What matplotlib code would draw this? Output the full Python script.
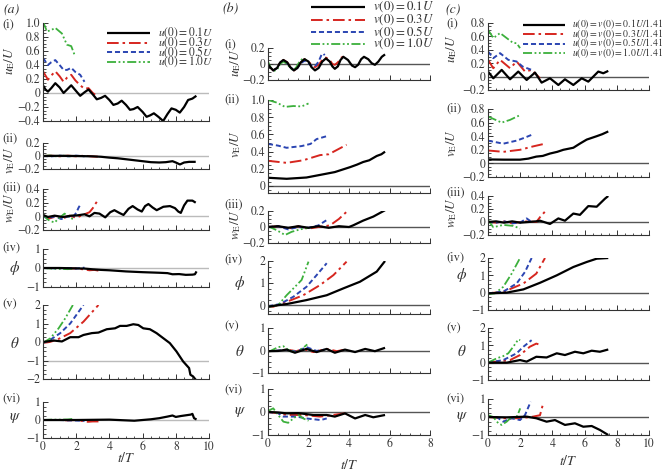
import matplotlib
matplotlib.use('Agg')
import matplotlib.pyplot as plt
from matplotlib.ticker import MultipleLocator, FuncFormatter
from matplotlib.lines import Line2D

plt.rcParams['font.family'] = 'STIXGeneral'
plt.rcParams['mathtext.fontset'] = 'stix'

# ---- data: each panel holds [black, red, blue, green] series as (t/T, value) pairs ----
a_labels = [r'$u(0)=0.1U$', r'$u(0)=0.3U$', r'$u(0)=0.5U$', r'$u(0)=1.0U$']
b_labels = [r'$v(0)=0.1U$', r'$v(0)=0.3U$', r'$v(0)=0.5U$', r'$v(0)=1.0U$']
c_labels = [r'$u(0)=v(0)=0.1U/1.41$', r'$u(0)=v(0)=0.3U/1.41$',
            r'$u(0)=v(0)=0.5U/1.41$', r'$u(0)=v(0)=1.0U/1.41$']

a_ue = [
    [(0, 0.11), (0.15, 0.05), (0.3, 0.02), (0.5, 0.07), (0.74, 0.14), (1.0, 0.08), (1.24, 0.0), (1.45, 0.05),
     (1.7, 0.11), (1.95, 0.04), (2.24, -0.04), (2.5, 0.01), (2.74, 0.05), (3.0, -0.02), (3.24, -0.09),
     (3.5, -0.07), (3.74, -0.04), (4.0, -0.1), (4.24, -0.17), (4.5, -0.15), (4.74, -0.11), (5.0, -0.17),
     (5.24, -0.24), (5.45, -0.23), (5.7, -0.2), (6.0, -0.27), (6.24, -0.34), (6.45, -0.32), (6.68, -0.29),
     (6.95, -0.34), (7.24, -0.40), (7.5, -0.3), (7.74, -0.22), (8.0, -0.24), (8.24, -0.28), (8.5, -0.2),
     (8.74, -0.1), (9.0, -0.08), (9.24, -0.04)],
    [(0, 0.31), (0.3, 0.19), (0.5, 0.25), (0.74, 0.31), (1.0, 0.24), (1.24, 0.16), (1.45, 0.22), (1.7, 0.26),
     (1.95, 0.18), (2.24, 0.11), (2.5, 0.06), (2.74, 0.07), (3.0, 0.0), (3.24, -0.04)],
    [(0, 0.5), (0.3, 0.4), (0.5, 0.44), (0.74, 0.47), (1.0, 0.4), (1.24, 0.33), (1.45, 0.33), (1.7, 0.36),
     (1.95, 0.3), (2.24, 0.26), (2.5, 0.16)],
    [(0, 1.02), (0.24, 0.88), (0.5, 0.9), (0.74, 0.93), (1.14, 0.85), (1.44, 0.69), (1.7, 0.67), (1.94, 0.52)],
]
a_ve = [
    [(0, 0), (1, 0.003), (2, 0), (3, -0.005), (3.5, -0.012), (4, -0.025), (4.5, -0.035), (5, -0.05),
     (5.5, -0.065), (6, -0.08), (6.5, -0.095), (7, -0.1), (7.4, -0.095), (7.8, -0.08), (8.0, -0.1),
     (8.25, -0.13), (8.5, -0.1), (8.8, -0.09), (9.2, -0.09)],
    [(0, 0), (0.5, 0.005), (1, -0.005), (1.5, 0.005), (2, -0.005), (2.5, 0.005), (3, -0.008), (3.3, -0.01)],
    [(0, 0), (0.5, -0.005), (1, 0.005), (1.5, -0.005), (2, 0.005), (2.5, -0.005)],
    [(0, 0), (0.4, 0.008), (0.8, -0.005), (1.2, 0.006), (1.6, -0.005), (1.9, 0.005)],
]
a_we = [
    [(0, 0.02), (0.3, -0.01), (0.7, 0.01), (1.2, -0.01), (1.7, 0.01), (2.1, 0.015), (2.5, 0.03), (2.8, 0.0),
     (3.1, 0.05), (3.4, 0.04), (3.75, -0.015), (4.05, 0.06), (4.3, 0.09), (4.6, 0.05), (4.85, 0.02),
     (5.15, 0.11), (5.4, 0.15), (5.7, 0.1), (5.95, 0.07), (6.15, 0.15), (6.35, 0.18), (6.6, 0.13),
     (6.85, 0.09), (7.25, 0.14), (7.65, 0.15), (7.95, 0.12), (8.15, 0.07), (8.3, 0.05), (8.5, 0.16),
     (8.7, 0.23), (9.0, 0.23), (9.2, 0.2)],
    [(0, 0), (0.4, -0.03), (0.8, 0.0), (1.2, -0.03), (1.6, 0.01), (2.0, -0.02), (2.4, 0.02), (2.6, 0.04),
     (2.8, 0.06), (3.0, 0.12), (3.15, 0.18), (3.35, 0.25)],
    [(0, 0), (0.3, -0.03), (0.7, 0.0), (1.1, -0.04), (1.5, 0.0), (1.8, -0.01), (2.0, 0.05), (2.15, 0.13), (2.3, 0.19)],
    [(0, 0.03), (0.25, -0.04), (0.45, -0.07), (0.7, -0.09), (0.95, -0.03), (1.3, 0.04), (1.5, 0.0), (1.8, -0.04)],
]
a_phi = [
    [(0, 0), (1, 0), (2, -0.02), (2.5, -0.03), (3, -0.07), (3.5, -0.1), (4, -0.12), (5, -0.18), (6, -0.22),
     (7, -0.25), (7.5, -0.27), (7.8, -0.33), (8.2, -0.32), (8.6, -0.36), (9.0, -0.35), (9.15, -0.33), (9.25, -0.18)],
    [(0, 0), (1, 0.0), (1.5, -0.03), (2, -0.02), (2.5, -0.08), (2.8, -0.12), (3.1, -0.1), (3.35, -0.14)],
    [(0, 0), (0.8, -0.02), (1.5, 0.0), (2, -0.03), (2.5, 0.02)],
    [(0, 0), (0.5, -0.03), (1.0, -0.05), (1.5, -0.06), (1.9, -0.02)],
]
a_theta = [
    [(0, 0), (0.64, 0.08), (1.14, 0.03), (1.64, 0.26), (2.14, 0.26), (2.44, 0.38), (2.94, 0.48), (3.34, 0.51),
     (3.84, 0.69), (4.34, 0.74), (4.64, 0.87), (5.04, 0.87), (5.44, 0.96), (5.74, 0.92), (6.04, 0.74),
     (6.44, 0.69), (6.84, 0.48), (7.24, 0.21), (7.64, -0.06), (8.04, -0.51), (8.44, -1.05), (8.8, -1.41),
     (8.88, -1.77), (9.04, -1.86), (9.2, -2.04)],
    [(0, -0.05), (0.4, 0.0), (0.84, 0.12), (1.64, 0.48), (2.44, 1.1), (3.34, 2.0)],
    [(0, -0.05), (0.44, 0.12), (1.04, 0.48), (1.64, 1.0), (2.44, 2.0)],
    [(0, -0.05), (0.44, 0.2), (0.94, 0.74), (1.34, 1.28), (1.8, 2.0)],
]
a_psi = [
    [(0, 0), (2, 0), (4, 0.02), (5, -0.02), (5.5, -0.04), (6, 0), (6.5, 0.04), (7, 0.1), (7.5, 0.19),
     (7.8, 0.25), (8.0, 0.17), (8.3, 0.22), (8.6, 0.26), (8.9, 0.3), (9.0, 0.34), (9.1, 0.1), (9.25, 0.03)],
    [(0, 0), (1, 0), (1.5, -0.02), (2, 0), (2.4, -0.06), (2.7, -0.1), (3.0, -0.08), (3.4, -0.08)],
    [(0, 0), (1, 0), (1.5, -0.02), (2, -0.03), (2.5, -0.05)],
    [(0, 0), (0.5, 0.02), (1, 0.02), (1.5, 0.03), (1.9, 0.07)],
]

b_ue = [
    [(0, 0.0), (0.1, -0.04), (0.26, -0.08), (0.45, -0.05), (0.6, 0.02), (0.76, 0.05), (0.95, 0.02),
     (1.1, -0.04), (1.28, -0.08), (1.45, -0.05), (1.62, 0.02), (1.8, 0.06), (2.0, 0.03), (2.15, -0.04),
     (2.32, -0.08), (2.5, -0.05), (2.68, 0.03), (2.86, 0.07), (3.05, 0.03), (3.18, -0.03), (3.3, -0.06),
     (3.45, -0.03), (3.58, 0.05), (3.72, 0.09), (3.95, 0.05), (4.15, -0.02), (4.3, -0.04), (4.45, -0.01),
     (4.6, 0.06), (4.74, 0.09), (4.95, 0.06), (5.12, 0.01), (5.28, -0.01), (5.45, 0.03), (5.62, 0.09), (5.78, 0.12)],
    [(0, 0.0), (0.1, -0.04), (0.26, -0.08), (0.45, -0.05), (0.6, 0.02), (0.76, 0.05), (0.95, 0.02),
     (1.1, -0.04), (1.28, -0.08), (1.45, -0.05), (1.62, 0.02), (1.8, 0.06), (2.0, 0.03), (2.15, -0.01),
     (2.32, -0.04), (2.5, -0.01), (2.68, 0.05), (2.86, 0.08), (3.05, 0.05), (3.18, 0.0), (3.3, -0.01),
     (3.45, 0.02), (3.62, 0.08), (3.8, 0.1)],
    [(0, 0.0), (0.1, -0.04), (0.26, -0.08), (0.45, -0.05), (0.6, 0.01), (0.76, 0.04), (0.95, 0.01),
     (1.1, -0.04), (1.28, -0.08), (1.45, -0.05), (1.62, 0.01), (1.8, 0.04), (2.0, 0.01), (2.15, -0.02),
     (2.32, -0.03), (2.5, 0.03), (2.65, 0.12), (2.73, 0.13), (2.8, 0.11)],
    [(0, 0.03), (0.1, -0.03), (0.26, -0.09), (0.45, -0.07), (0.6, 0.0), (0.76, 0.03), (0.95, 0.0),
     (1.1, -0.05), (1.25, -0.08), (1.4, -0.04), (1.58, 0.04), (1.74, 0.07), (1.88, 0.05), (2.0, 0.03)],
]
b_ve = [
    [(0, 0.097), (0.92, 0.085), (1.9, 0.1), (2.57, 0.13), (3.3, 0.163), (4.05, 0.22), (4.4, 0.25),
     (4.7, 0.28), (5.0, 0.3), (5.37, 0.35), (5.6, 0.37), (5.78, 0.40)],
    [(0, 0.294), (0.92, 0.27), (1.74, 0.30), (2.57, 0.36), (3.0, 0.37), (3.4, 0.42), (3.88, 0.48)],
    [(0, 0.49), (0.5, 0.47), (0.92, 0.445), (1.66, 0.465), (2.1, 0.49), (2.4, 0.546), (2.9, 0.58)],
    [(0, 1.0), (0.43, 0.97), (0.84, 0.92), (1.25, 0.93), (1.66, 0.925), (2.0, 0.96)],
]
b_we = [
    [(0, 0.0), (0.5, 0.01), (1.0, -0.01), (1.5, 0.01), (2.0, -0.01), (2.5, 0.01), (3.0, -0.01), (3.5, 0.01),
     (4.0, 0.0), (4.2, 0.02), (4.7, 0.08), (5.2, 0.13), (5.78, 0.21)],
    [(0, 0.0), (0.5, 0.01), (1.0, -0.02), (1.5, 0.01), (2.0, -0.02), (2.5, 0.0), (3.06, 0.02), (3.5, 0.1), (3.88, 0.19)],
    [(0, 0.0), (0.5, 0.01), (1.0, -0.03), (1.5, 0.0), (2.0, -0.01), (2.49, 0.02), (2.98, 0.1)],
    [(0, 0.01), (0.43, -0.04), (0.84, -0.1), (1.17, -0.06), (1.58, -0.03), (2.0, -0.01)],
]
b_phi = [
    [(0, -0.07), (0.5, 0.0), (0.92, 0.05), (1.9, 0.23), (2.9, 0.45), (3.72, 0.76), (4.54, 1.06), (5.37, 1.52), (5.78, 2.0)],
    [(0, -0.05), (0.26, -0.07), (0.92, 0.15), (1.74, 0.45), (2.57, 0.91), (3.23, 1.36), (3.88, 1.97)],
    [(0, -0.05), (0.59, 0.05), (1.25, 0.38), (1.9, 0.83), (2.4, 1.36), (2.9, 1.9)],
    [(0, -0.05), (0.1, -0.07), (0.5, 0.0), (0.92, 0.45), (1.33, 0.83), (1.66, 1.14), (2.0, 1.97)],
]
b_theta = [
    [(0, -0.03), (0.5, -0.02), (0.92, 0.04), (1.33, -0.1), (1.9, 0.07), (2.4, -0.07), (2.9, 0.07), (3.3, -0.1),
     (3.8, 0.04), (4.3, -0.07), (4.8, 0.07), (5.28, -0.03), (5.78, 0.12)],
    [(0, -0.03), (0.5, -0.01), (0.92, 0.04), (1.4, -0.03), (1.74, 0.07), (2.24, -0.07), (2.9, 0.07), (3.4, -0.03), (3.8, 0.04)],
    [(0, -0.03), (0.5, 0.0), (0.92, 0.03), (1.4, -0.05), (1.9, 0.15), (2.4, -0.02), (2.8, 0.04)],
    [(0, -0.03), (0.1, -0.03), (0.5, 0.15), (0.76, 0.19), (1.09, -0.03), (1.41, -0.07), (1.74, 0.12), (1.94, 0.27)],
]
b_psi = [
    [(0, 0.0), (0.5, -0.02), (0.92, -0.06), (1.5, -0.05), (2.24, -0.13), (2.9, -0.13), (3.3, -0.2),
     (3.8, -0.06), (4.3, -0.28), (4.8, -0.13), (5.2, -0.23), (5.78, -0.13)],
    [(0, 0.0), (0.5, -0.05), (0.92, -0.13), (1.74, -0.13), (2.57, -0.2), (3.2, -0.13), (3.8, -0.06)],
    [(0, 0.0), (0.5, -0.05), (0.76, -0.2), (1.41, -0.2), (1.9, -0.28), (2.6, -0.35), (2.9, -0.28)],
    [(0, 0.0), (0.1, 0.09), (0.26, 0.16), (0.5, -0.13), (0.76, -0.42), (1.0, -0.47), (1.25, -0.28),
     (1.5, -0.13), (1.74, -0.28), (2.0, -0.38)],
]

c_ue = [
    [(0, 0.075), (0.33, -0.025), (0.85, 0.1), (1.37, -0.04), (1.88, 0.075), (2.4, -0.05), (2.92, 0.06),
     (3.33, -0.09), (3.85, -0.025), (4.37, -0.125), (4.78, -0.04), (5.3, -0.125), (5.82, -0.025),
     (6.23, -0.075), (6.85, 0.075), (7.16, 0.05), (7.47, 0.085)],
    [(0, 0.25), (0.33, 0.125), (0.75, 0.25), (1.37, 0.125), (1.78, 0.225), (2.3, 0.075), (2.71, 0.1), (3.23, -0.025)],
    [(0, 0.375), (0.33, 0.275), (0.75, 0.35), (1.26, 0.25), (1.78, 0.225), (2.15, 0.15), (2.71, 0.1)],
    [(0, 0.7), (0.33, 0.575), (0.75, 0.65), (1.16, 0.575), (1.57, 0.5), (1.78, 0.5), (1.99, 0.425)],
]
c_ve = [
    [(0, 0.058), (1.0, 0.055), (1.99, 0.055), (2.5, 0.07), (3.0, 0.1), (3.4, 0.11), (3.85, 0.145),
     (4.3, 0.17), (4.68, 0.2), (5.3, 0.23), (5.7, 0.29), (6.13, 0.35), (6.75, 0.4), (7.1, 0.43), (7.47, 0.47)],
    [(0, 0.19), (0.95, 0.17), (1.99, 0.2), (2.8, 0.25), (3.54, 0.29)],
    [(0, 0.335), (0.95, 0.29), (1.78, 0.335), (2.3, 0.38), (2.71, 0.42)],
    [(0, 0.69), (0.85, 0.6), (1.37, 0.64), (1.99, 0.71)],
]
c_we = [
    [(0, 0.0), (0.5, 0.01), (1.0, -0.01), (1.5, 0.01), (2.0, -0.01), (2.5, 0.0), (3.0, 0.01), (3.23, 0.02),
     (3.85, -0.03), (4.37, 0.055), (4.78, 0.02), (5.3, 0.13), (5.71, 0.11), (6.23, 0.245), (6.75, 0.235),
     (7.27, 0.36), (7.47, 0.4)],
    [(0, 0.0), (0.5, -0.01), (1.0, 0.01), (1.5, -0.02), (2.0, 0.0), (2.5, 0.01), (3.0, 0.0), (3.25, 0.08), (3.54, 0.16)],
    [(0, 0.0), (0.5, -0.01), (1.0, 0.01), (1.5, -0.02), (2.0, -0.01), (2.4, 0.055), (2.71, 0.0)],
    [(0, 0.03), (0.33, -0.08), (0.95, -0.045), (1.57, -0.06), (1.99, -0.1)],
]
c_phi = [
    [(0, -0.04), (1.16, 0.0), (2.2, 0.19), (3.23, 0.57), (4.27, 1.0), (5.3, 1.48), (6.13, 1.77), (6.75, 1.96), (7.47, 2.0)],
    [(0, -0.04), (1.0, 0.06), (2.2, 0.53), (3.0, 1.1), (3.54, 2.0)],
    [(0, -0.04), (0.95, 0.06), (1.78, 0.53), (2.3, 1.2), (2.71, 2.0)],
    [(0, -0.08), (0.43, -0.04), (0.95, 0.34), (1.47, 1.1), (1.99, 2.0)],
]
c_theta = [
    [(0, 0.0), (1.16, 0.0), (1.99, 0.15), (2.4, 0.06), (3.0, 0.34), (3.64, 0.3), (4.27, 0.54), (4.78, 0.44),
     (5.4, 0.63), (5.92, 0.54), (6.44, 0.69), (6.95, 0.63), (7.47, 0.76)],
    [(0, 0.0), (1.37, 0.15), (1.99, 0.44), (2.6, 0.92), (3.0, 1.1), (3.33, 1.0)],
    [(0, 0.0), (0.95, 0.15), (1.78, 0.54), (2.2, 0.92), (2.71, 1.3)],
    [(0, 0.0), (0.54, 0.25), (0.95, 0.38), (1.26, 0.54), (1.57, 0.92), (1.88, 1.34), (2.0, 1.3)],
]
c_psi = [
    [(0, 0.0), (1.16, -0.02), (2.4, 0.02), (3.0, -0.07), (3.64, -0.26), (4.16, -0.17), (4.78, -0.44),
     (5.4, -0.35), (5.92, -0.54), (6.44, -0.5), (6.95, -0.72), (7.47, -1.0)],
    [(0, 0.0), (0.95, -0.07), (1.99, -0.07), (2.8, 0.02), (3.23, 0.1), (3.44, 0.8)],
    [(0, 0.0), (0.54, 0.0), (0.95, -0.26), (1.47, -0.07), (1.99, -0.17), (2.3, 0.11), (2.65, 0.85)],
    [(0, 0.1), (0.33, 0.0), (0.64, -0.35), (0.85, -0.44), (1.16, -0.26), (1.47, 0.0), (1.74, -0.07),
     (1.88, 0.2), (2.0, 0.48)],
]

colors = ['black', '#d6261f', '#2b45b2', '#3cb03c']
dashes = [(0, ()), (0, (6, 2, 1.3, 2)), (0, (2.6, 1.5)), (0, (5, 1.4, 1, 1.4, 1, 1.4))]
widths = [1.6, 1.4, 1.4, 1.3]
ink = '#333333'

W, H = 669, 471
fig = plt.figure(figsize=(W / 100, H / 100), dpi=100)


def fx(px):
    return px / W


def fy(py):
    return 1 - py / H


def fmt_factory(dec):
    def f(v, pos):
        if abs(v) < 1e-9:
            return '0'
        s = ('%.' + str(dec) + 'f') % v
        return s.replace('-', '\u2212')
    return FuncFormatter(f)


def panel(x0, x1, top, bot, xmax, ylim, ystep, dec, data, zero_color, bottom=False, hline=0):
    ax = fig.add_axes([fx(x0), fy(bot), fx(x1 - x0), (bot - top) / H])
    for k in [1, 2, 3, 0]:
        t = [p[0] for p in data[k]]
        v = [p[1] for p in data[k]]
        ax.plot(t, v, color=colors[k], linestyle=dashes[k], lw=widths[k])
    ax.axhline(hline, color=zero_color, lw=1.0, zorder=1)
    ax.set_xlim(0, xmax)
    ax.set_ylim(*ylim)
    for s in ['top', 'right']:
        ax.spines[s].set_visible(False)
    for s in ['left', 'bottom']:
        ax.spines[s].set_linewidth(0.8)
        ax.spines[s].set_color(ink)
    ax.xaxis.set_major_locator(MultipleLocator(2))
    ax.xaxis.set_minor_locator(MultipleLocator(0.5))
    ax.yaxis.set_major_locator(MultipleLocator(ystep))
    ax.yaxis.set_minor_locator(MultipleLocator(ystep / 4))
    ax.yaxis.set_major_formatter(fmt_factory(dec))
    ax.tick_params(which='both', direction='in', colors=ink, labelcolor=ink, labelsize=8.5, pad=2)
    ax.tick_params(which='major', length=3.5, width=0.7)
    ax.tick_params(which='minor', length=1.8, width=0.6)
    if bottom:
        ax.xaxis.set_major_formatter(FuncFormatter(lambda v, p: '%d' % v))
    else:
        ax.tick_params(axis='x', labelbottom=False)
    ax.patch.set_alpha(0)
    return ax


names = ['(i)', '(ii)', '(iii)', '(iv)', '(v)', '(vi)']
ylabs = [r'$u_{\rm E}/U$', r'$v_{\rm E}/U$', r'$w_{\rm E}/U$', r'$\phi$', r'$\theta$', r'$\psi$']


def column(x0, x1, xmax, geo, data, num_x, num_y, lab_x, lab_y, zero_color, hlines):
    for i in range(6):
        top, bot, yl, st, dec = geo[i]
        panel(x0, x1, top, bot, xmax, yl, st, dec, data[i], zero_color, bottom=(i == 5), hline=hlines[i])
        fig.text(fx(num_x), fy(num_y[i]), names[i], fontsize=9, color=ink, va='center', ha='left')
        rot = i < 3
        fig.text(fx(lab_x[0] if rot else lab_x[1]), fy(lab_y[i]), ylabs[i], fontsize=9.5 if rot else 11,
                 rotation=90 if rot else 0, va='center', ha='center', color=ink)


# column (a)
a_geo = [(23, 121, (-0.4, 1.0), 0.2, 1), (143, 169, (-0.2, 0.2), 0.2, 1), (189, 230, (-0.2, 0.4), 0.2, 1),
         (249, 287, (-1, 1), 1, 0), (305, 379, (-2, 2), 1, 0), (402, 438, (-1, 1), 1, 0)]
column(43, 209, 10, a_geo, [a_ue, a_ve, a_we, a_phi, a_theta, a_psi], 2,
       [25, 139, 188, 248, 305, 399], (10, 15), [61, 160, 208, 268, 343, 418], '#bbbbbb',
       [0, 0, 0, 0, -1, 0])

# column (b)
b_geo = [(48, 80, (-0.2, 0.2), 0.2, 1), (100, 193, (-0.08, 1.0), 0.2, 1), (211, 243, (-0.2, 0.2), 0.2, 1),
         (261, 314, (-0.4, 2), 1, 0), (328, 373, (-1, 1), 1, 0), (389, 435, (-1, 1), 1, 0)]
column(268, 430, 8, b_geo, [b_ue, b_ve, b_we, b_phi, b_theta, b_psi], 224,
       [45, 100, 205, 260, 327, 390], (236, 240), [63, 144, 225, 283, 352, 412], '#555555',
       [0] * 6)

# column (c)
c_geo = [(23, 90, (-0.2, 0.8), 0.2, 1), (109, 177, (-0.2, 0.8), 0.2, 1), (196, 235, (-0.2, 0.4), 0.2, 1),
         (258, 310, (-1, 2), 1, 0), (328, 380, (-1, 2), 1, 0), (399, 435, (-1, 1), 1, 0)]
column(488, 649, 10, c_geo, [c_ue, c_ve, c_we, c_phi, c_theta, c_psi], 446,
       [24, 109, 193, 258, 329, 399], (452, 462), [49, 143, 213, 275, 352, 417], '#555555',
       [0] * 6)

# panel letters and x labels
for x, lab in [(3, '(a)'), (222, '(b)'), (445, '(c)')]:
    fig.text(fx(x), fy(9), lab, fontsize=10, style='italic', va='center', ha='left', color=ink)
for x, y in [(126, 458), (349, 465), (568, 461)]:
    fig.text(fx(x), fy(y), r'$t/T$', fontsize=10, ha='center', va='center', color=ink)


# legends drawn row by row in figure pixels
def legend(labels, rows, h0, h1, tx, size):
    for k in range(4):
        fig.add_artist(Line2D([fx(h0), fx(h1)], [fy(rows[k]), fy(rows[k])], transform=fig.transFigure,
                              color=colors[k], linestyle=dashes[k], lw=widths[k]))
        fig.text(fx(tx), fy(rows[k]), labels[k], fontsize=size, ha='left', va='center', color=ink)


legend(a_labels, [33, 42.5, 52, 61.5], 107, 150, 158, 8.3)
legend(b_labels, [7, 20, 32, 44], 311, 365, 373, 9.3)
legend(c_labels, [24.5, 34, 43.5, 53], 523, 565, 572, 7)

fig.savefig('out.png', dpi=100)
